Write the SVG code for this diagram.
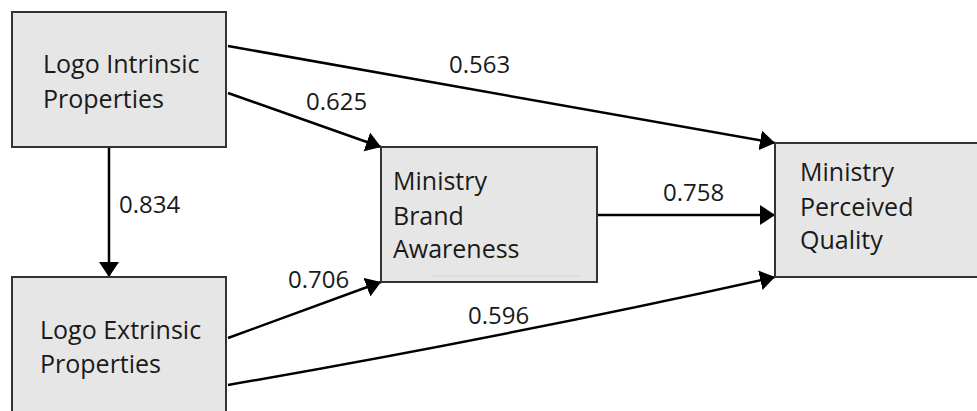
<svg xmlns="http://www.w3.org/2000/svg" width="977" height="411" viewBox="0 0 977 411">
  <defs>
    <style>
      .box { fill: #e6e6e6; stroke: #333333; stroke-width: 2; }
      .lbl { font-family: "Open Sans", "Liberation Sans", sans-serif; font-size: 25px; fill: #1a1a1a; }
      .num { font-family: "Open Sans", "Liberation Sans", sans-serif; font-size: 24px; fill: #1a1a1a; }
      .edge { fill: none; stroke: #000000; stroke-width: 2.5; marker-end: url(#arrow); }
    </style>
    <marker id="arrow" markerUnits="userSpaceOnUse" markerWidth="16" markerHeight="20" refX="15" refY="10" orient="auto">
      <path d="M0,0 L15,10 L0,20 Z" fill="#000000"/>
    </marker>
  </defs>
  <rect width="977" height="411" fill="#ffffff"/>

  <g id="connectors">
    <path class="edge" d="M228,46 L775,143"/>
    <path class="edge" d="M228,93 L381,147"/>
    <path class="edge" d="M109,147 L109,277"/>
    <path class="edge" d="M597,215 L775,215"/>
    <path class="edge" d="M228,338 L381,282"/>
    <path class="edge" d="M228,385 Q510,336 775,277"/>
    <text class="num" x="449" y="73">0.563</text>
    <text class="num" x="306" y="110">0.625</text>
    <text class="num" x="119" y="213">0.834</text>
    <text class="num" x="663" y="201">0.758</text>
    <text class="num" x="288" y="288">0.706</text>
    <text class="num" x="468" y="324">0.596</text>
  </g>

  <g id="logo-intrinsic">
    <rect class="box" x="12" y="12" width="214" height="135"/>
    <text class="lbl" x="43" y="73">Logo Intrinsic</text>
    <text class="lbl" x="43" y="108">Properties</text>
  </g>

  <g id="logo-extrinsic">
    <rect class="box" x="12" y="277" width="214" height="150"/>
    <text class="lbl" x="40" y="339">Logo Extrinsic</text>
    <text class="lbl" x="40" y="373">Properties</text>
  </g>

  <g id="brand-awareness">
    <rect class="box" x="381" y="147" width="216" height="135"/>
    <line x1="433" y1="276" x2="580" y2="276" stroke="#d2d2d2" stroke-width="1"/>
    <text class="lbl" x="393" y="190">Ministry</text>
    <text class="lbl" x="393" y="225">Brand</text>
    <text class="lbl" x="393" y="258">Awareness</text>
  </g>

  <g id="perceived-quality">
    <rect class="box" x="775" y="143" width="215" height="134"/>
    <text class="lbl" x="800" y="181">Ministry</text>
    <text class="lbl" x="800" y="216">Perceived</text>
    <text class="lbl" x="800" y="249">Quality</text>
  </g>
</svg>
